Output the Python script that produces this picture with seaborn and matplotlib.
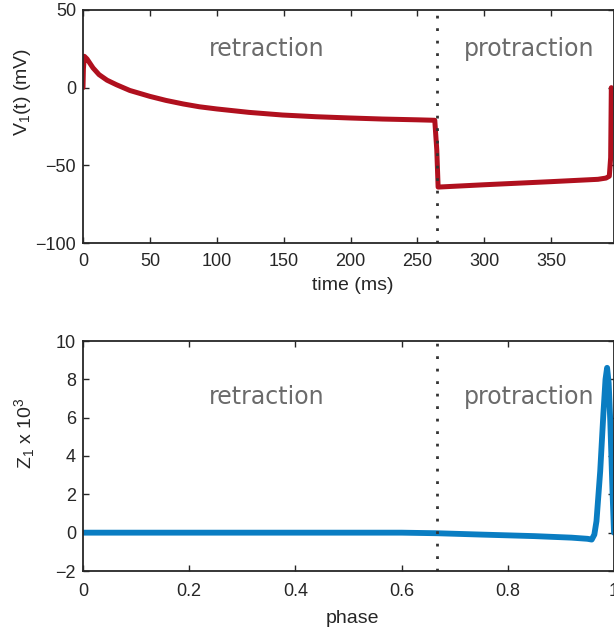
import numpy as np
import pandas as pd
import matplotlib
matplotlib.use("Agg")
import matplotlib.pyplot as plt
import seaborn as sns

# ---- data ----
time_ms = [0, 0.3, 1.0, 3, 7.5, 12, 18, 25, 35, 50, 62, 75, 87, 100, 124, 149, 174, 199, 224, 250, 263,
           264.5, 265.5, 300, 350, 385, 391, 393.5, 394.5, 395]
v1_mV = [0, 12, 20.2, 18.5, 12.7, 8.4, 4.8, 1.9, -1.8, -5.6, -8.2, -10.5, -12.3, -13.7, -15.9, -17.6,
         -18.7, -19.5, -20.2, -20.7, -21.0,
         -40, -64, -62.5, -60.5, -59, -58.2, -57, -45, 0]

phase = [0, 0.3, 0.6, 0.667, 0.75, 0.85, 0.92, 0.95, 0.958, 0.963, 0.967, 0.974, 0.980,
         0.984, 0.987, 0.990, 0.993, 0.997, 1.0]
z1_e3 = [0, 0, 0, -0.03, -0.1, -0.18, -0.26, -0.32, -0.36, -0.1, 0.6, 3.2, 6.2,
         8.0, 8.6, 7.8, 5.8, 2.3, 0.0]

split_time = 265
split_phase = 0.667
time_ticks = [0, 50, 100, 150, 200, 250, 300, 350]
v_ticks = [-100, -50, 0, 50]
phase_ticks = [0, 0.2, 0.4, 0.6, 0.8, 1]
z_ticks = [-2, 0, 2, 4, 6, 8, 10]
labels = ["retraction", "protraction"]

sns.set_style("ticks")
ink = "#262626"
plt.rcParams.update({
    "font.family": ["Liberation Sans", "DejaVu Sans"],
    "mathtext.fontset": "custom",
    "mathtext.rm": "Liberation Sans",
    "mathtext.it": "Liberation Sans:italic",
    "axes.edgecolor": ink,
    "axes.labelcolor": ink,
    "xtick.color": ink,
    "ytick.color": ink,
    "xtick.direction": "in",
    "ytick.direction": "in",
    "xtick.top": True,
    "ytick.right": True,
})

fig = plt.figure(figsize=(6.14, 6.32), dpi=100)
ax1 = fig.add_axes([83/614, 1-243/632, 1-83/614, 233/632])
ax2 = fig.add_axes([83/614, 1-571/632, 1-83/614, 230/632])

df1 = pd.DataFrame({"t": time_ms, "v": v1_mV})
df2 = pd.DataFrame({"p": phase, "z": z1_e3})

sns.lineplot(data=df1, x="t", y="v", ax=ax1, color="#B0101E", lw=3.6, sort=False)
ax1.axvline(split_time, color="#333333", ls=(0, (1, 3.5)), lw=2)
ax1.set_xlim(0, 397)
ax1.set_ylim(-100, 50)
ax1.set_xticks(time_ticks)
ax1.set_yticks(v_ticks)
ax1.set_yticklabels(["\u2212100", "\u221250", "0", "50"])
ax1.set_xlabel("time (ms)", fontsize=14)
ax1.set_ylabel("V$_1$(t) (mV)", fontsize=14)
ax1.xaxis.set_label_coords(0.508, -0.145)
ax1.yaxis.set_label_coords(-0.094, 0.648)

sns.lineplot(data=df2, x="p", y="z", ax=ax2, color="#0A7DC2", lw=4.2, sort=False)
ax2.axvline(split_phase, color="#333333", ls=(0, (1, 3.5)), lw=2)
ax2.set_xlim(0, 1)
ax2.set_ylim(-2, 10)
ax2.set_xticks(phase_ticks)
ax2.set_xticklabels(["0", "0.2", "0.4", "0.6", "0.8", "1"])
ax2.set_yticks(z_ticks)
ax2.set_yticklabels(["\u22122", "0", "2", "4", "6", "8", "10"])
ax2.set_xlabel("phase", fontsize=14)
ax2.set_ylabel("Z$_1$ x 10$^3$", fontsize=14)
ax2.xaxis.set_label_coords(0.508, -0.17)
ax2.yaxis.set_label_coords(-0.087, 0.60)

for ax, ty, xp in zip([ax1, ax2], [0.833, 0.757], [7, 8.5]):
    for s in ax.spines.values():
        s.set_visible(True)
        s.set_linewidth(1.3)
        s.set_color(ink)
    ax.tick_params(labelsize=13, length=4, width=1)
    ax.tick_params(axis="x", pad=xp)
    ax.tick_params(axis="y", pad=5)
    ax.text(0.345, ty, labels[0], transform=ax.transAxes, ha="center", va="center",
            fontsize=17, color="#6b6b6b", family="DejaVu Sans")
    ax.text(0.84, ty, labels[1], transform=ax.transAxes, ha="center", va="center",
            fontsize=17, color="#6b6b6b", family="DejaVu Sans")

fig.savefig("out.png", dpi=100)
